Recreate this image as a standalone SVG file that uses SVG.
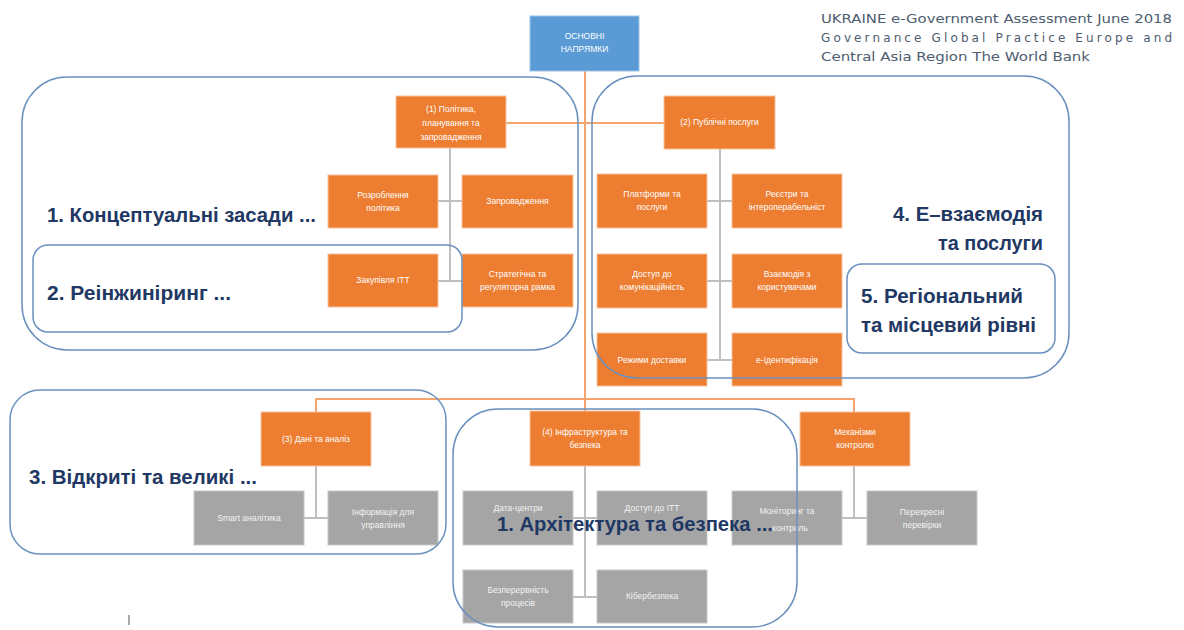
<svg xmlns="http://www.w3.org/2000/svg" width="1184" height="630" viewBox="0 0 1184 630">
<style>
.o{fill:#ED7D31;stroke:#F6C3A0;stroke-width:1}
.g{fill:#A5A5A5;stroke:#C8C8C8;stroke-width:1}
.b{fill:#5B9BD5;stroke:#9DC3E6;stroke-width:1}
.t{font-family:"Liberation Sans",Arial,sans-serif;font-size:8.5px;fill:#FFFFFF;text-anchor:middle}
.tg{font-family:"Liberation Sans",Arial,sans-serif;font-size:8.5px;fill:#F2F2F2;text-anchor:middle}
.oc{stroke:#F4A56E;stroke-width:2;fill:none}
.gc{stroke:#BFBFBF;stroke-width:2;fill:none}
.frame{fill:none;stroke:#6A90BF;stroke-width:1.5}
.big{font-family:"Liberation Sans",Arial,sans-serif;font-weight:bold;font-size:20px;fill:#1F3864}
.hdr{font-family:"DejaVu Sans",sans-serif;font-size:12px;fill:#4E5C70}
</style>
<rect width="1184" height="630" fill="#FFFFFF"/>

<g id="header">
<text class="hdr" x="821" y="23" textLength="351" lengthAdjust="spacingAndGlyphs">UKRAINE e-Government Assessment June 2018</text>
<text class="hdr" x="821" y="42" textLength="351" lengthAdjust="spacing">Governance Global Practice Europe and</text>
<text class="hdr" x="821" y="61" textLength="269" lengthAdjust="spacingAndGlyphs">Central Asia Region The World Bank</text>
</g>

<g id="connectors">
<line class="oc" x1="585" y1="71" x2="585" y2="411"/>
<line class="oc" x1="506" y1="123" x2="664" y2="123"/>
<polyline class="oc" points="316,412 316,399 854,399 854,412"/>
<line class="gc" x1="450" y1="148" x2="450" y2="281"/>
<line class="gc" x1="438" y1="201" x2="462" y2="201"/>
<line class="gc" x1="438" y1="281" x2="462" y2="281"/>
<line class="gc" x1="720" y1="149" x2="720" y2="360"/>
<line class="gc" x1="707" y1="201" x2="732" y2="201"/>
<line class="gc" x1="707" y1="281" x2="732" y2="281"/>
<line class="gc" x1="707" y1="360" x2="732" y2="360"/>
<line class="gc" x1="316" y1="466" x2="316" y2="518"/>
<line class="gc" x1="304" y1="518" x2="328" y2="518"/>
<line class="gc" x1="585" y1="466" x2="585" y2="597"/>
<line class="gc" x1="573" y1="518" x2="597" y2="518"/>
<line class="gc" x1="573" y1="597" x2="597" y2="597"/>
<line class="gc" x1="854" y1="466" x2="854" y2="518"/>
<line class="gc" x1="842" y1="518" x2="867" y2="518"/>
</g>

<g id="n-root"><rect class="b" x="530" y="16" width="109" height="55"/><text class="t" x="584.5" y="39">ОСНОВНІ</text><text class="t" x="584.5" y="52">НАПРЯМКИ</text></g>

<g id="n1"><rect class="o" x="396" y="96" width="110" height="52"/><text class="t" x="451" y="112">(1) Політика,</text><text class="t" x="451" y="126">планування та</text><text class="t" x="451" y="140">запровадження</text></g>
<g id="n1a"><rect class="o" x="328" y="175" width="110" height="53"/><text class="t" x="383" y="198">Розроблення</text><text class="t" x="383" y="211">політика</text></g>
<g id="n1b"><rect class="o" x="462" y="175" width="111" height="53"/><text class="t" x="517.5" y="204">Запровадження</text></g>
<g id="n1c"><rect class="o" x="328" y="254" width="110" height="53"/><text class="t" x="383" y="283">Закупівля ІТТ</text></g>
<g id="n1d"><rect class="o" x="462" y="254" width="111" height="53"/><text class="t" x="517.5" y="277">Стратегічна та</text><text class="t" x="517.5" y="290">регуляторна рамка</text></g>

<g id="n2"><rect class="o" x="664" y="96" width="111" height="53"/><text class="t" x="719.5" y="125">(2) Публічні послуги</text></g>
<g id="n2a"><rect class="o" x="597" y="174" width="110" height="54"/><text class="t" x="652" y="197">Платформи та</text><text class="t" x="652" y="210">послуги</text></g>
<g id="n2b"><rect class="o" x="732" y="174" width="110" height="54"/><text class="t" x="787" y="197">Реєстри та</text><text class="t" x="787" y="210">інтероперабельніст</text></g>
<g id="n2c"><rect class="o" x="597" y="254" width="110" height="54"/><text class="t" x="652" y="277">Доступ до</text><text class="t" x="652" y="290">комунікаційність</text></g>
<g id="n2d"><rect class="o" x="732" y="254" width="110" height="54"/><text class="t" x="787" y="277">Взаємодія з</text><text class="t" x="787" y="290">користувачами</text></g>
<g id="n2e"><rect class="o" x="597" y="333" width="110" height="53"/><text class="t" x="652" y="363">Режими доставки</text></g>
<g id="n2f"><rect class="o" x="732" y="333" width="110" height="53"/><text class="t" x="787" y="363">е-Ідентифікація</text></g>

<g id="n3"><rect class="o" x="261" y="412" width="110" height="54"/><text class="t" x="316" y="442">(3) Дані та аналіз</text></g>
<g id="n3a"><rect class="g" x="194" y="491" width="110" height="54"/><text class="tg" x="249" y="521">Smart аналітика</text></g>
<g id="n3b"><rect class="g" x="328" y="491" width="110" height="54"/><text class="tg" x="383" y="515">Інформація для</text><text class="tg" x="383" y="528">управління</text></g>

<g id="n4"><rect class="o" x="530" y="411" width="110" height="55"/><text class="t" x="585" y="435">(4) Інфраструктура та</text><text class="t" x="585" y="448">безпека</text></g>
<g id="n4a"><rect class="g" x="463" y="491" width="110" height="54"/><text class="tg" x="518" y="511">Дата-центри</text></g>
<g id="n4b"><rect class="g" x="597" y="491" width="110" height="54"/><text class="tg" x="652" y="511">Доступ до ІТТ</text></g>
<g id="n4c"><rect class="g" x="463" y="570" width="110" height="53"/><text class="tg" x="518" y="593">Безперервність</text><text class="tg" x="518" y="606">процесів</text></g>
<g id="n4d"><rect class="g" x="597" y="570" width="110" height="53"/><text class="tg" x="652" y="599">Кібербезпека</text></g>

<g id="n5"><rect class="o" x="800" y="412" width="110" height="54"/><text class="t" x="855" y="435">Механізми</text><text class="t" x="855" y="448">контролю</text></g>
<g id="n5a"><rect class="g" x="732" y="491" width="110" height="54"/><text class="tg" x="787" y="514">Моніторинг та</text><text class="tg" x="790" y="531">контроль</text></g>
<g id="n5b"><rect class="g" x="867" y="491" width="110" height="54"/><text class="tg" x="922" y="515">Перехресні</text><text class="tg" x="922" y="528">перевірки</text></g>

<g id="frames">
<rect class="frame" x="22" y="77" width="556" height="273" rx="45"/>
<rect class="frame" x="33" y="245" width="429" height="87" rx="15"/>
<rect class="frame" x="592" y="76" width="477" height="302" rx="45"/>
<rect class="frame" x="847" y="264" width="208" height="89" rx="15"/>
<rect class="frame" x="10" y="390" width="436" height="164" rx="30"/>
<rect class="frame" x="453" y="409" width="344" height="218" rx="45"/>
</g>

<g id="labels">
<text class="big" x="47" y="222" textLength="269" lengthAdjust="spacingAndGlyphs">1. Концептуальні засади ...</text>
<text class="big" x="47" y="300" textLength="184" lengthAdjust="spacingAndGlyphs">2. Реінжиніринг ...</text>
<text class="big" x="29" y="484" textLength="228" lengthAdjust="spacingAndGlyphs">3. Відкриті та великі ...</text>
<text class="big" x="497" y="531" textLength="276" lengthAdjust="spacingAndGlyphs">1. Архітектура та безпека ...</text>
<text class="big" x="893" y="221" textLength="150" lengthAdjust="spacingAndGlyphs">4. Е–взаємодія</text>
<text class="big" x="938" y="250" textLength="105" lengthAdjust="spacingAndGlyphs">та послуги</text>
<text class="big" x="861" y="303" textLength="162" lengthAdjust="spacingAndGlyphs">5. Регіональний</text>
<text class="big" x="861" y="332" textLength="175" lengthAdjust="spacingAndGlyphs">та місцевий рівні</text>
</g>

<line x1="129" y1="615" x2="129" y2="625" stroke="#8C8C8C" stroke-width="1.5"/>
</svg>
